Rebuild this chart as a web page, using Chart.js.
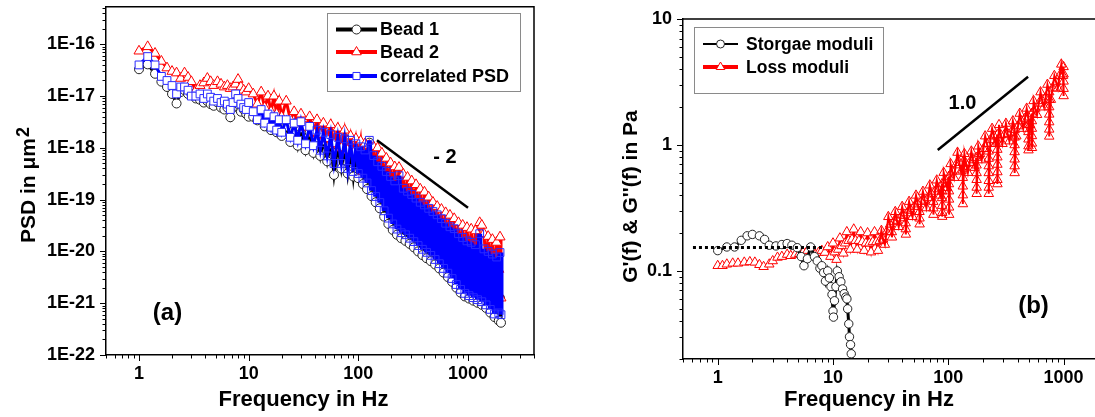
<!DOCTYPE html>
<html><head><meta charset="utf-8">
<script src="https://cdn.jsdelivr.net/npm/chart.js@4/dist/chart.umd.min.js"></script>
<style>
html,body{margin:0;padding:0;width:1095px;height:417px;overflow:hidden;background:#fff;}
#wa{position:absolute;left:0;top:0;width:550px;height:417px;}
#wb{position:absolute;left:550px;top:0;width:600px;height:417px;}
</style></head><body>
<div id="wa"><canvas id="ca" width="550" height="417"></canvas></div>
<div id="wb"><canvas id="cb" width="600" height="417"></canvas></div>
<script>
// ---------- Panel (a): PSD ----------
const freqA = [1.0,1.2,1.4,1.6,1.8,2.0,2.2,2.4,2.6,2.8,3.0,3.3,3.6,3.9,4.2,4.5,4.8,5.2,5.6,6.0,6.4,6.8,7.2,7.6,8.0,8.5,9.0,9.5,10,
 11,12,13,14,15,16,17,18,19,20,22,24,26,28,30,33,36,39,42,45,48,52,56,60,65,70,75,80,85,90,95,100,
 105,110,115,120,126,132,138,144,150,157,164,172,180,188,197,206,215,225,235,246,257,269,281,294,307,321,336,351,367,384,
 401,419,438,458,479,501,524,548,573,599,626,655,685,716,749,783,819,856,895,936,979,1024,1070,1119,1170,1223,1279,1337,1398,1462,
 1528,1598,1670,1746,1826,1909,1960,2000];
const psdBead1 = [3.3e-17,4.1e-17,2.7e-17,1.9e-17,1.5e-17,1.1e-17,7.2e-18,1.2e-17,1.3e-17,1.1e-17,1.1e-17,9e-18,8.5e-18,7.5e-18,8e-18,7e-18,6.5e-18,7.5e-18,6e-18,5.5e-18,6e-18,3.9e-18,6e-18,6.5e-18,7e-18,5e-18,5.5e-18,4.5e-18,4e-18,
 4e-18,3.4e-18,4.5e-18,2.6e-18,3.5e-18,2.2e-18,3e-18,2e-18,2.8e-18,1.7e-18,2.6e-18,1.3e-18,2.2e-18,1.1e-18,2.4e-18,9e-19,2e-18,8e-19,1.6e-18,7e-19,1.4e-18,5.5e-19,1.2e-18,3e-19,1.1e-18,4e-19,1e-18,3.2e-19,9e-19,2.8e-19,8e-19,2.6e-19,
 8.9e-19,2.0e-19,7.1e-19,1.6e-19,1.26e-18,1.17e-19,4.0e-19,8.9e-20,3.2e-19,6.8e-20,
 2.2e-19,4.7e-20,1.6e-19,3.4e-20,1.17e-19,2.6e-20,9.3e-20,2.1e-20,7.8e-20,1.8e-20,
 6.8e-20,1.6e-20,6.0e-20,1.4e-20,5.2e-20,1.2e-20,1.3e-19,1.0e-20,3.7e-20,8.5e-21,
 3.2e-20,7.4e-21,2.75e-20,6.5e-21,2.4e-20,5.6e-21,2.0e-20,4.7e-21,1.7e-20,3.9e-21,
 1.4e-20,3.2e-21,1.17e-20,2.6e-21,9.1e-21,2.0e-21,7.1e-21,1.6e-21,5.8e-21,1.35e-21,
 5.1e-21,1.23e-21,4.7e-21,1.12e-21,4.3e-21,1.02e-21,3.9e-21,9.3e-22,3.5e-21,8.1e-22,
 2.9e-21,6.6e-22,2.4e-21,5.4e-22,1.95e-21,4.6e-22,1.26e-21,4.2e-22];
const psdBead2 = [7.4e-17,9e-17,6.7e-17,4.7e-17,3.5e-17,3e-17,2.8e-17,2.2e-17,2.8e-17,2.3e-17,1.9e-17,1.3e-17,1.6e-17,1.8e-17,2.2e-17,1.9e-17,1.6e-17,1.9e-17,1.7e-17,1.5e-17,1.6e-17,1.4e-17,1.5e-17,1.7e-17,2.1e-17,1.5e-17,1.3e-17,1.2e-17,1.4e-17,
 1.1e-17,7e-18,1.2e-17,6e-18,1e-17,5e-18,1e-17,4.5e-18,8e-18,4e-18,8e-18,3.5e-18,5e-18,3e-18,4.5e-18,2.5e-18,4e-18,2e-18,3.5e-18,1.8e-18,3e-18,1.5e-18,2.8e-18,1.2e-18,2.4e-18,1e-18,2.2e-18,9e-19,1.7e-18,8e-19,1.5e-18,7e-19,
 1.35e-18,3.5e-19,1.2e-18,3.2e-19,1.12e-18,3.0e-19,1.05e-18,2.9e-19,1.0e-18,2.5e-19,
 7.9e-19,2.0e-19,6.3e-19,1.6e-19,5.1e-19,1.3e-19,4.3e-19,9.5e-20,4.2e-19,9.3e-20,
 3.1e-19,8.1e-20,2.7e-19,7.1e-20,2.3e-19,6.0e-20,1.95e-19,5.0e-20,1.6e-19,4.2e-20,
 1.4e-19,3.5e-20,1.12e-19,2.8e-20,8.9e-20,2.2e-20,7.4e-20,1.95e-20,6.5e-20,1.7e-20,
 5.6e-20,1.5e-20,5.0e-20,1.3e-20,4.3e-20,1.1e-20,3.6e-20,9.5e-21,3.2e-20,8.5e-21,
 2.9e-20,7.8e-21,2.7e-20,7.4e-21,2.5e-20,6.9e-21,3.6e-20,3.2e-20,2.2e-20,5.9e-21,
 1.95e-20,5.1e-21,1.7e-20,4.5e-21,1.5e-20,4.5e-21,1.9e-20,1.26e-21];
const psdCorr = [4e-17,5.8e-17,4e-17,2.4e-17,2e-17,1.6e-17,1.1e-17,1.5e-17,1.5e-17,1.3e-17,1e-17,1e-17,1.1e-17,9e-18,1.1e-17,9.5e-18,8e-18,9e-18,7.5e-18,8e-18,7e-18,5.5e-18,7.5e-18,1.1e-17,9e-18,7e-18,6e-18,5.5e-18,7.5e-18,
 5e-18,3.5e-18,5.5e-18,3e-18,4.5e-18,2.5e-18,4e-18,2.2e-18,3.5e-18,2e-18,3.5e-18,1.6e-18,3e-18,1.4e-18,3.2e-18,1.2e-18,2.6e-18,1.1e-18,2.2e-18,9e-19,2e-18,7e-19,1.8e-18,5e-19,1.6e-18,5e-19,1.5e-18,4e-19,1.4e-18,3.5e-19,1.2e-18,3.2e-19,
 1.05e-18,2.6e-19,9.1e-19,2.1e-19,1.4e-18,1.5e-19,7.1e-19,1.15e-19,5.4e-19,8.8e-20,
 4.4e-19,6.1e-20,3.5e-19,4.4e-20,2.8e-19,3.4e-20,2.3e-19,2.7e-20,2.9e-19,2.3e-20,
 1.66e-19,2.1e-20,1.45e-19,1.8e-20,1.26e-19,1.55e-20,1.07e-19,1.3e-20,8.9e-20,1.1e-20,
 7.9e-20,9.6e-21,6.8e-20,8.4e-21,5.9e-20,7.0e-21,5.1e-20,5.8e-21,4.3e-20,4.7e-21,
 3.5e-20,3.8e-21,3.0e-20,3.0e-21,2.75e-20,2.3e-21,2.2e-20,1.85e-21,1.86e-20,1.55e-21,
 1.6e-20,1.4e-21,1.5e-20,1.28e-21,1.35e-20,1.17e-21,2.2e-20,1.07e-21,1.12e-20,9.3e-22,
 1.0e-20,7.6e-22,8.9e-21,6.2e-22,7.8e-21,6.5e-22,9.5e-21,6e-22];
const slopeAX = [148, 1000];
const slopeAY = [1.41e-18, 6.97e-20];
const psdTicks = [1e-22,1e-21,1e-20,1e-19,1e-18,1e-17,1e-16];
const psdTickLabels = ['1E-22','1E-21','1E-20','1E-19','1E-18','1E-17','1E-16'];
const freqTicks = [1,10,100,1000];
const freqTickLabels = ['1','10','100','1000'];

// ---------- Panel (b): moduli ----------
const freqS = [1.0,1.2,1.4,1.6,1.8,2.0,2.3,2.55,2.8,3.2,3.6,4.0,4.4,4.9,5.3,5.6,6.0,6.4,6.9,7.3,7.7,8.0,8.3,8.6,9.0,9.3,9.6,9.8,10.0,10.1,10.3,10.6,10.9,11.3,11.7,12.1,12.5,12.9,13.2,13.4,13.7,13.9,14.2,14.4,14.6];
const gStorage = [0.145,0.155,0.155,0.175,0.19,0.195,0.19,0.178,0.16,0.158,0.162,0.165,0.16,0.153,0.13,0.11,0.125,0.155,0.13,0.12,0.105,0.11,0.097,0.083,0.1,0.088,0.075,0.065,0.048,0.043,0.058,0.075,0.1,0.09,0.082,0.072,0.066,0.062,0.06,0.05,0.038,0.03,0.026,0.022,0.015];
const freqL = [1.0,1.1,1.2,1.35,1.5,1.7,1.9,2.1,2.3,2.5,2.8,3.0,3.3,3.6,4.0,4.3,4.7,5.1,5.5,6.0,6.5,7.0,7.5,8.0,8.5,9.0,9.5,
 10.0,10.35,10.72,11.09,11.48,11.89,12.30,12.74,13.18,13.65,
 14.13,14.62,15.14,15.67,16.22,16.79,17.38,17.99,18.62,19.28,
 19.95,20.65,21.38,22.13,22.91,23.71,24.55,25.41,26.30,27.23,
 28.18,29.17,30.20,31.26,32.36,32.45,33.50,34.67,35.89,37.15,
 38.46,39.81,41.21,42.66,42.75,42.85,44.16,45.71,47.32,48.98,
 50.70,52.48,54.33,56.23,56.3,56.4,58.21,60.26,62.37,64.57,
 66.83,69.18,71.61,74.13,74.2,74.3,76.74,79.43,82.22,85.11,
 88.10,88.2,88.3,88.4,88.5,88.6,91.20,94.41,97.72,101.2,
 101.3,101.4,101.5,101.6,101.7,104.7,108.4,112.2,116.1,120.2,
 124.5,128.8,133.4,133.5,133.6,133.7,133.8,133.9,138.0,142.9,
 147.9,153.1,158.5,164.1,169.8,175.8,175.9,176.0,176.1,176.2,
 176.3,182.0,188.4,195.0,201.8,208.9,216.3,223.9,224.0,224.1,
 224.2,224.3,224.4,224.5,231.7,239.9,248.3,257.0,266.1,266.2,
 266.3,266.4,266.5,266.6,266.7,266.8,275.4,285.1,295.1,305.5,
 316.2,327.3,338.8,350.8,363.1,375.8,375.9,376.0,376.1,376.2,
 376.3,376.4,389.0,402.7,416.9,431.5,446.7,462.4,478.6,495.5,
 495.6,495.7,495.8,495.9,496.0,512.9,530.9,531.0,531.1,531.2,
 531.3,531.4,549.5,568.9,588.8,609.5,631.0,653.1,676.1,699.8,
 724.4,749.9,750.0,750.1,750.2,750.3,750.4,750.5,776.2,803.5,
 831.8,861.0,891.3,922.6,955.0,988.6,1000,1000.1,1000.2,1000.3,
 1000.4];
const gLoss = [0.11,0.11,0.113,0.115,0.115,0.117,0.118,0.117,0.112,0.108,0.113,0.12,0.128,0.13,0.135,0.132,0.135,0.137,0.14,0.145,0.14,0.135,0.14,0.145,0.14,0.155,0.13,
 0.166,0.141,0.123,0.148,0.182,0.158,0.138,0.166,0.204,0.174,
 0.148,0.178,0.214,0.174,0.148,0.174,0.204,0.170,0.145,0.166,
 0.200,0.166,0.141,0.170,0.204,0.170,0.145,0.174,0.209,0.178,
 0.162,0.204,0.269,0.234,0.204,0.185,0.245,0.295,0.251,0.224,
 0.263,0.324,0.275,0.240,0.215,0.195,0.288,0.355,0.302,0.269,
 0.324,0.398,0.339,0.295,0.262,0.235,0.355,0.427,0.363,0.316,
 0.380,0.479,0.407,0.355,0.315,0.28,0.427,0.525,0.447,0.398,
 0.490,0.43,0.38,0.33,0.29,0.27,0.603,0.525,0.457,0.562,
 0.49,0.43,0.37,0.32,0.28,0.708,0.617,0.550,0.692,0.871,
 0.724,0.617,0.724,0.63,0.55,0.47,0.40,0.34,0.851,0.708,
 0.603,0.724,0.891,0.759,0.661,0.794,0.69,0.60,0.53,0.46,
 0.41,0.977,0.851,0.759,0.933,1.175,1.023,0.891,0.78,0.68,
 0.60,0.52,0.46,0.41,1.096,1.349,1.175,1.023,1.202,1.05,
 0.92,0.80,0.70,0.61,0.53,0.49,1.445,1.202,1.023,1.202,
 1.479,1.230,1.072,1.259,1.549,1.318,1.15,1.00,0.88,0.77,
 0.68,0.60,1.175,1.413,1.778,1.549,1.349,1.622,1.950,1.660,
 1.45,1.27,1.11,0.98,0.91,1.445,1.778,1.55,1.35,1.18,
 1.03,0.95,2.239,1.950,1.738,2.138,2.630,2.239,1.995,2.399,
 3.020,2.630,2.30,2.00,1.75,1.52,1.33,1.17,2.291,2.818,
 3.548,3.162,2.818,3.548,4.365,3.548,4.169,3.65,3.2,2.8,
 2.45];
const plateauX = [0.61, 8.1];
const plateauY = [0.1536, 0.1536];
const slopeBX = [81, 492];
const slopeBY = [0.912, 3.48];
const modTicks = [0.1,1,10];
const modTickLabels = ['0.1','1','10'];

// ---------- helpers ----------
const FAM = "'Liberation Sans', Arial, Helvetica, sans-serif";
Chart.defaults.font.family = FAM;
Chart.defaults.color = '#000';
const bold = s => `bold ${s}px ${FAM}`;
const pts = (xs, ys) => xs.map((x, i) => ({x, y: ys[i]}));

function drawMarker(ctx, style, r, x, y, color) {
  ctx.save();
  ctx.fillStyle = '#fff'; ctx.strokeStyle = color; ctx.lineWidth = 1;
  Chart.helpers.drawPoint(ctx, {pointStyle: style, radius: r, rotation: 0, borderWidth: 1}, x, y);
  ctx.restore();
}

const decor = {
  id: 'decor',
  afterDraw(chart, args, o) {
    const ctx = chart.ctx, a = chart.chartArea;
    ctx.save();
    ctx.strokeStyle = '#000'; ctx.lineWidth = 1.5;
    ctx.beginPath(); ctx.moveTo(a.left, a.top); ctx.lineTo(a.right, a.top); ctx.lineTo(a.right, a.bottom); ctx.stroke();
    ctx.lineWidth = 1;
    const logTicks = (scale, horiz) => {
      const lo = Math.floor(Math.log10(scale.min)), hi = Math.ceil(Math.log10(scale.max));
      for (let e = lo; e <= hi; e++) for (let k = 1; k <= 9; k++) {
        const v = k * Math.pow(10, e);
        if (v < scale.min * 0.9999 || v > scale.max * 1.0001) continue;
        const p = Math.round(scale.getPixelForValue(v)) + 0.5;
        const len = k === 1 ? 6 : 3.5;
        ctx.beginPath();
        if (horiz) { ctx.moveTo(p, a.bottom); ctx.lineTo(p, a.bottom + len); }
        else { ctx.moveTo(a.left - len, p); ctx.lineTo(a.left, p); }
        ctx.stroke();
      }
    };
    logTicks(chart.scales.x, true); logTicks(chart.scales.y, false);
    // legend
    const L = o.legend;
    ctx.strokeStyle = '#8a8a8a'; ctx.lineWidth = 1;
    ctx.strokeRect(L.box[0] + 0.5, L.box[1] + 0.5, L.box[2] - L.box[0], L.box[3] - L.box[1]);
    L.rows.forEach(r => {
      const ds = chart.data.datasets[r.ds];
      ctx.strokeStyle = ds.borderColor; ctx.lineWidth = r.lw;
      ctx.beginPath(); ctx.moveTo(L.x1, r.y); ctx.lineTo(L.x2, r.y); ctx.stroke();
      drawMarker(ctx, ds.pointStyle, r.mr, (L.x1 + L.x2) / 2, r.y, ds.pointBorderColor);
      ctx.fillStyle = '#000'; ctx.font = bold(L.size); ctx.textAlign = 'left'; ctx.textBaseline = 'middle';
      ctx.fillText(ds.label, L.tx, r.y + 1);
    });
    // texts
    ctx.fillStyle = '#000';
    o.texts.forEach(t => {
      ctx.save();
      ctx.font = bold(t.size); ctx.textAlign = t.align || 'center'; ctx.textBaseline = t.base || 'middle';
      ctx.translate(t.x, t.y);
      if (t.rot) ctx.rotate(-Math.PI / 2);
      ctx.fillText(t.t, 0, 0);
      if (t.sup) {
        const w = ctx.measureText(t.t).width;
        ctx.font = bold(t.supSize);
        ctx.fillText(t.sup, w + 1, -t.supRaise);
      }
      ctx.restore();
    });
    ctx.restore();
  }
};

function axis(cfg) {
  return {
    type: 'logarithmic', position: cfg.pos, min: cfg.min, max: cfg.max, bounds: 'data',
    afterFit: s => {
      if (cfg.pos === 'left') { s.width = cfg.size; s.paddingTop = 0; s.paddingBottom = 0; }
      else { s.height = cfg.size; s.paddingLeft = 0; s.paddingRight = 0; }
    },
    afterBuildTicks: s => { s.ticks = cfg.ticks.map(v => ({value: v})); },
    grid: {display: true, drawOnChartArea: false, drawTicks: true, tickLength: 6, tickColor: 'rgba(0,0,0,0)'},
    border: {display: true, color: '#000', width: 1.5},
    ticks: {autoSkip: false, maxRotation: 0, minRotation: 0, padding: cfg.pad, color: '#000',
      font: {size: 18, weight: 'bold', family: FAM}, callback: (v, i) => cfg.labels[i]}
  };
}

function baseOptions(p) {
  return {
    responsive: false, animation: false, devicePixelRatio: 1,
    layout: {padding: p.padding},
    elements: {line: {tension: 0}},
    plugins: {legend: {display: false}, tooltip: {enabled: false}, decor: p.decor},
    scales: {x: p.x, y: p.y}
  };
}

const fillAbove = lim => c => (c.raw && c.raw.x > lim) ? 'rgba(255,255,255,0)' : '#fff';

// ---------- chart (a) ----------
new Chart(document.getElementById('ca'), {
  type: 'line',
  plugins: [decor],
  data: {datasets: [
    {label: 'slope', data: pts(slopeAX, slopeAY), borderColor: '#000', borderWidth: 2.5, pointRadius: 0, order: 0},
    {label: 'correlated PSD', data: pts(freqA, psdCorr), borderColor: '#0000ff', borderWidth: 3,
      segment: {borderWidth: c => c.p0.parsed.x >= 100 ? 5 : 3},
      pointStyle: 'rect', pointRadius: 5.5, pointBorderWidth: 1, pointBackgroundColor: fillAbove(40), pointBorderColor: '#2a2aff', order: 1},
    {label: 'Bead 2', data: pts(freqA, psdBead2), borderColor: '#ff0000', borderWidth: 3,
      pointStyle: 'triangle', pointRadius: 5.8, pointBorderWidth: 1, pointBackgroundColor: '#fff', pointBorderColor: '#ff0000', order: 2},
    {label: 'Bead 1', data: pts(freqA, psdBead1), borderColor: '#000000', borderWidth: 3,
      pointStyle: 'circle', pointRadius: 4.5, pointBorderWidth: 1, pointBackgroundColor: '#fff', pointBorderColor: '#222', order: 3}
  ]},
  options: baseOptions({
    padding: {left: 0, top: 5, right: 16, bottom: 0},
    x: axis({pos: 'bottom', min: 0.5, max: 4000, size: 62, ticks: freqTicks, labels: freqTickLabels, pad: 2}),
    y: axis({pos: 'left', min: 1e-22, max: 5.3e-16, size: 106, ticks: psdTicks, labels: psdTickLabels, pad: 5}),
    decor: {
      legend: {box: [327, 13, 520, 91], x1: 336, x2: 377, tx: 380, size: 18,
        rows: [{ds: 3, y: 29.5, lw: 4, mr: 4.5}, {ds: 2, y: 52, lw: 4, mr: 5.5}, {ds: 1, y: 76, lw: 4, mr: 5}]},
      texts: [
        {t: '(a)', x: 167.5, y: 313.5, size: 24},
        {t: '- 2', x: 445, y: 157.5, size: 20},
        {t: 'Frequency in Hz', x: 303.5, y: 400, size: 22},
        {t: 'PSD in \u03bcm', x: 35, y: 243, size: 21, align: 'left', base: 'alphabetic', rot: true, sup: '2', supSize: 18, supRaise: 6}
      ]
    }
  })
});

// ---------- chart (b) ----------
new Chart(document.getElementById('cb'), {
  type: 'line',
  plugins: [decor],
  data: {datasets: [
    {label: 'plateau', data: pts(plateauX, plateauY), borderColor: '#000', borderWidth: 3, borderDash: [3, 3], pointRadius: 0, order: 0},
    {label: 'slope', data: pts(slopeBX, slopeBY), borderColor: '#000', borderWidth: 2.5, pointRadius: 0, order: 0},
    {label: 'Storgae moduli', data: pts(freqS, gStorage), borderColor: '#000000', borderWidth: 3,
      pointStyle: 'circle', pointRadius: 4.2, pointBorderWidth: 1, pointBackgroundColor: '#fff', pointBorderColor: '#222', order: 1},
    {label: 'Loss moduli', data: pts(freqL, gLoss), borderColor: '#ff0000', borderWidth: 2,
      pointStyle: 'triangle', pointRadius: 5.5, pointBorderWidth: 1, pointBackgroundColor: fillAbove(25), pointBorderColor: '#ff0000', order: 2}
  ]},
  options: baseOptions({
    padding: {left: 0, top: 19, right: 17, bottom: 0},
    x: axis({pos: 'bottom', min: 0.5, max: 4000, size: 58, ticks: freqTicks, labels: freqTickLabels, pad: 2}),
    y: axis({pos: 'left', min: 0.02, max: 10, size: 133, ticks: modTicks, labels: modTickLabels, pad: 5}),
    decor: {
      legend: {box: [144, 27, 333, 93], x1: 153, x2: 188, tx: 196, size: 17.5,
        rows: [{ds: 2, y: 44, lw: 2, mr: 4}, {ds: 3, y: 67, lw: 4, mr: 5}]},
      texts: [
        {t: '(b)', x: 483.5, y: 306.5, size: 24},
        {t: '1.0', x: 412.5, y: 103.3, size: 20},
        {t: 'Frequency in Hz', x: 319, y: 400, size: 22},
        {t: "G'(f) & G''(f) in Pa", x: 87, y: 196.5, size: 21, align: 'center', base: 'alphabetic', rot: true}
      ]
    }
  })
});
</script></body></html>
